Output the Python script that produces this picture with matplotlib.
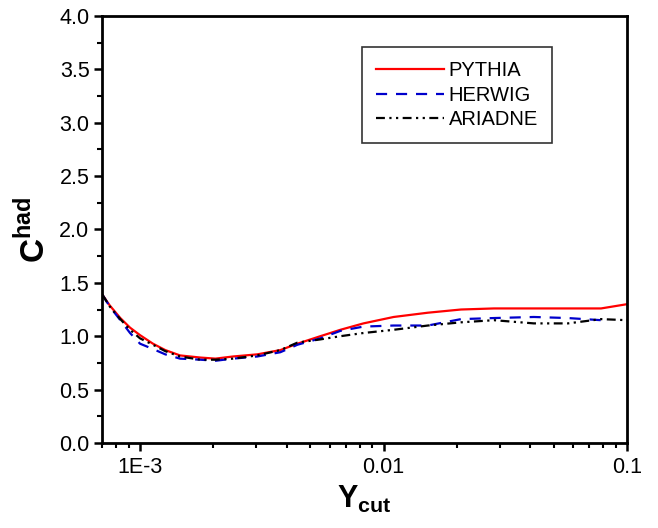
import matplotlib
matplotlib.use("Agg")
import matplotlib.pyplot as plt
from matplotlib.ticker import FixedLocator, LogLocator, MultipleLocator, NullFormatter

plt.rcParams['font.family'] = ['Liberation Sans', 'DejaVu Sans']
plt.rcParams['mathtext.fontset'] = 'custom'
plt.rcParams['mathtext.rm'] = 'Liberation Sans'
plt.rcParams['mathtext.bf'] = 'Liberation Sans:bold'

# ---- data ----
ycut = [0.0007, 0.00075, 0.00083, 0.00091, 0.001, 0.00113, 0.00127, 0.00146,
        0.00177, 0.00204, 0.00241, 0.00303, 0.00377, 0.00443, 0.0055, 0.00665,
        0.00827, 0.011, 0.0152, 0.0208, 0.0284, 0.0414, 0.0572, 0.0782, 0.1]
pythia = [1.39, 1.29, 1.17, 1.08, 1.01, 0.93, 0.87, 0.82,
          0.80, 0.79, 0.81, 0.83, 0.87, 0.93, 1.00, 1.06,
          1.12, 1.18, 1.22, 1.25, 1.26, 1.26, 1.26, 1.26, 1.30]
herwig_x = ycut[:-1]
herwig = [1.39, 1.28, 1.15, 1.03, 0.93, 0.88, 0.83, 0.79,
          0.78, 0.77, 0.79, 0.81, 0.85, 0.92, 0.98, 1.05,
          1.09, 1.10, 1.10, 1.16, 1.17, 1.18, 1.17, 1.15]
ariadne = [1.39, 1.28, 1.16, 1.06, 0.98, 0.92, 0.86, 0.81,
           0.78, 0.78, 0.79, 0.82, 0.87, 0.94, 0.97, 1.00,
           1.03, 1.06, 1.10, 1.13, 1.15, 1.12, 1.12, 1.16, 1.15]
xticks = [0.001, 0.01, 0.1]
xticklabels = ["1E-3", "0.01", "0.1"]

fig = plt.figure(figsize=(6.58, 5.28), dpi=100)
ax = fig.add_axes([0.155, 0.161, 0.798, 0.809])

ax.plot(ycut, pythia, color='#ff0000', lw=1.6, label='PYTHIA')
ax.plot(herwig_x, herwig, color='#0000cc', lw=1.6, ls=(0, (5, 4)), label='HERWIG')
ax.plot(ycut, ariadne, color='black', lw=1.6, ls=(0, (4, 2, 1, 2, 1, 2)), label='ARIADNE')

ax.set_xscale('log')
ax.set_xlim(0.000698, 0.1)
ax.set_ylim(0, 4.0)
ax.xaxis.set_major_locator(FixedLocator(xticks))
ax.set_xticklabels(xticklabels)
ax.xaxis.set_minor_locator(LogLocator(base=10, subs=range(2, 10)))
ax.xaxis.set_minor_formatter(NullFormatter())
ax.yaxis.set_major_locator(MultipleLocator(0.5))
ax.yaxis.set_minor_locator(MultipleLocator(0.25))
ax.yaxis.set_major_formatter(matplotlib.ticker.FormatStrFormatter('%.1f'))

for s in ax.spines.values():
    s.set_linewidth(2)
ax.tick_params(which='major', direction='out', length=6, width=1.8, labelsize=15.5, pad=3)
ax.tick_params(which='minor', direction='out', length=3.5, width=1.5)
ax.tick_params(axis='x', which='major', pad=4)

ax.set_ylabel(r'$\mathbf{C}^{\mathbf{had}}$', fontsize=24, labelpad=5)
ax.set_xlabel(r'$\mathbf{Y}_{\mathbf{cut}}$', fontsize=22, labelpad=4)

leg = ax.legend(loc='upper left', bbox_to_anchor=(0.495, 0.927), fontsize=14.5,
                frameon=True, fancybox=False, edgecolor='black', handlelength=3.4,
                handletextpad=0.2, borderpad=0.7, labelspacing=0.28, borderaxespad=0)
leg.get_frame().set_linewidth(1.2)

fig.savefig('out.png', dpi=100)
